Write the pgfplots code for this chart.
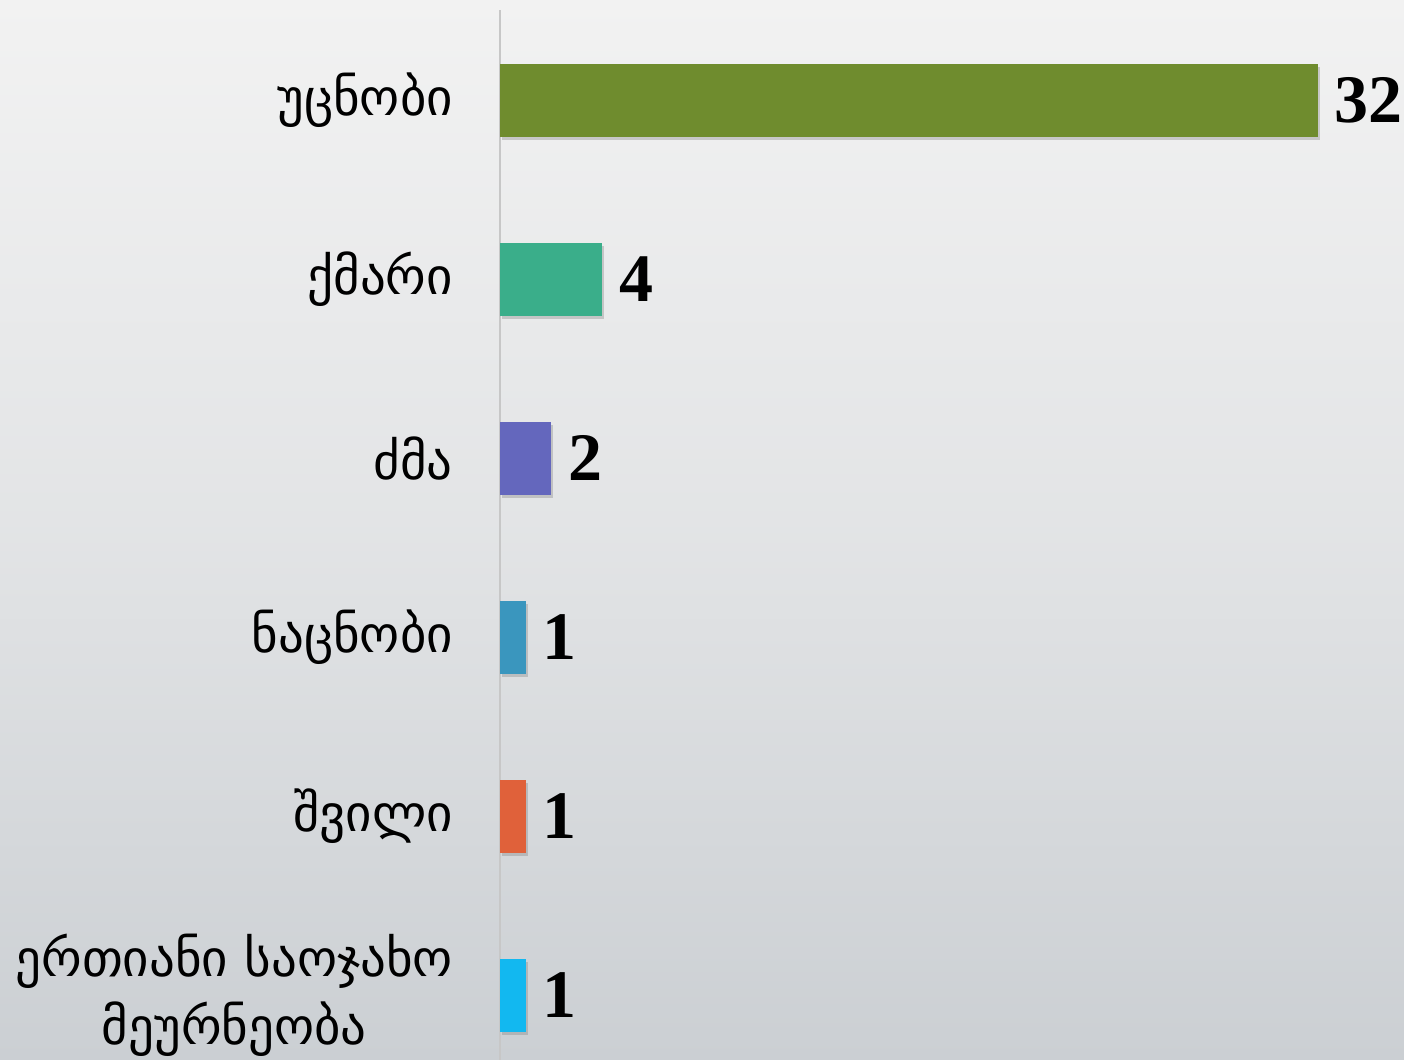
\documentclass[border=0pt]{standalone}
\usepackage{pgfplots}
\pgfplotsset{compat=1.18}
\usepackage{fontspec}
\setmainfont{Liberation Serif}
\newfontfamily\geofont{DejaVu Sans}
\usetikzlibrary{shadows}
\definecolor{bgtop}{HTML}{F2F2F2}
\definecolor{bgbot}{HTML}{CBCFD3}
\definecolor{cA}{HTML}{6F8C2E}
\definecolor{cB}{HTML}{3AAE8A}
\definecolor{cC}{HTML}{6467BD}
\definecolor{cD}{HTML}{3A96BE}
\definecolor{cE}{HTML}{E0613A}
\definecolor{cF}{HTML}{12B8F0}
\begin{document}
\begin{tikzpicture}[x=1pt,y=1pt]
\path[use as bounding box] (-250,0) rectangle (452,530);
\shade[top color=bgtop, bottom color=bgbot, middle color=bgtop!60!bgbot] (-250,0) rectangle (452,530);
\begin{axis}[at={(0,0)}, anchor=south west, scale only axis,
  width=452pt, height=525pt,
  xmin=0, xmax=35.37, ymin=-0.363, ymax=5.503,
  xbar, bar width=36.5pt, bar shift=0pt,
  axis x line=bottom, axis y line=left,
  x axis line style={draw=none},
  y axis line style={-, draw=black!22, line width=0.7pt},
  xtick=\empty,
  ytick={0,1,2,3,4,5},
  yticklabels={{ერთიანი საოჯახო\\მეურნეობა},შვილი,ნაცნობი,ძმა,ქმარი,უცნობი},
  major tick length=0pt,
  yticklabel style={font=\geofont\fontsize{25.5}{34}\selectfont, align=center, xshift=-20pt},
  nodes near coords={\pgfmathprintnumber[assume math mode=true]{\pgfplotspointmeta}},
  nodes near coords style={font=\fontsize{34}{40}\selectfont\bfseries, anchor=west, xshift=5pt, text=black},
  every axis plot/.append style={draw=none, drop shadow={shadow xshift=1pt, shadow yshift=-1.5pt, opacity=0.35}},
]
\addplot[fill=cA] coordinates {(32,5)};
\addplot[fill=cB] coordinates {(4,4)};
\addplot[fill=cC] coordinates {(2,3)};
\addplot[fill=cD] coordinates {(1,2)};
\addplot[fill=cE] coordinates {(1,1)};
\addplot[fill=cF] coordinates {(1,0)};
\end{axis}
\end{tikzpicture}
\end{document}
